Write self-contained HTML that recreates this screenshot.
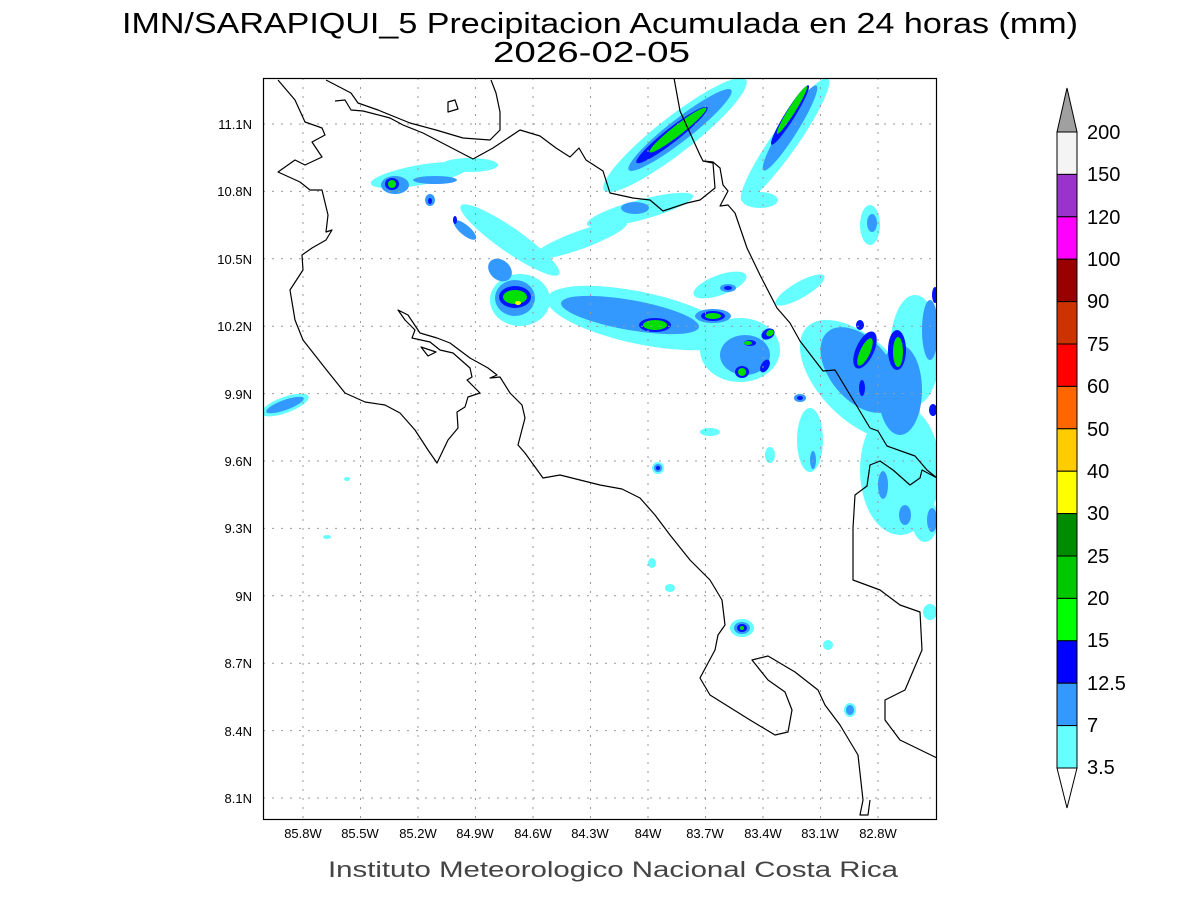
<!DOCTYPE html>
<html><head><meta charset="utf-8"><style>
html,body{margin:0;padding:0;background:#fff;}
svg{display:block;font-family:"Liberation Sans",sans-serif;}
</style></head><body>
<svg width="1200" height="900" viewBox="0 0 1200 900" xmlns="http://www.w3.org/2000/svg">
<rect width="1200" height="900" fill="#fff"/>
<text x="122" y="33" font-size="29" fill="#000" textLength="956" lengthAdjust="spacingAndGlyphs">IMN/SARAPIQUI_5 Precipitacion Acumulada en 24 horas (mm)</text>
<text x="493" y="62" font-size="29" fill="#000" textLength="197" lengthAdjust="spacingAndGlyphs">2026-02-05</text>
<defs><clipPath id="c"><rect x="263" y="78" width="674" height="742"/></clipPath></defs>
<g clip-path="url(#c)">
<g fill="#66ffff">
<ellipse cx="675" cy="135" rx="90" ry="18" transform="rotate(-38 675 135)"/>
<ellipse cx="785" cy="140" rx="75" ry="13" transform="rotate(-55 785 140)"/>
<ellipse cx="640" cy="210" rx="55" ry="10" transform="rotate(-15 640 210)"/>
<ellipse cx="760" cy="200" rx="18" ry="8"/>
<ellipse cx="420" cy="175" rx="50" ry="10" transform="rotate(-10 420 175)"/>
<ellipse cx="470" cy="165" rx="28" ry="7"/>
<ellipse cx="510" cy="240" rx="60" ry="12" transform="rotate(35 510 240)"/>
<ellipse cx="580" cy="240" rx="50" ry="9" transform="rotate(-20 580 240)"/>
<ellipse cx="520" cy="300" rx="30" ry="26"/>
<ellipse cx="640" cy="318" rx="95" ry="26" transform="rotate(12 640 318)"/>
<ellipse cx="740" cy="350" rx="40" ry="32"/>
<ellipse cx="720" cy="285" rx="28" ry="10" transform="rotate(-20 720 285)"/>
<ellipse cx="800" cy="290" rx="28" ry="8" transform="rotate(-30 800 290)"/>
<ellipse cx="860" cy="380" rx="75" ry="40" transform="rotate(45 860 380)"/>
<ellipse cx="900" cy="470" rx="40" ry="65"/>
<ellipse cx="915" cy="350" rx="25" ry="55"/>
<ellipse cx="870" cy="225" rx="10" ry="20"/>
<ellipse cx="810" cy="440" rx="13" ry="32"/>
<ellipse cx="925" cy="520" rx="13" ry="22"/>
<ellipse cx="285" cy="405" rx="25" ry="8" transform="rotate(-20 285 405)"/>
<ellipse cx="658" cy="468" rx="6" ry="6"/>
<ellipse cx="742" cy="628" rx="12" ry="9"/>
<ellipse cx="850" cy="710" rx="6" ry="7"/>
<ellipse cx="652" cy="563" rx="4" ry="5"/>
<ellipse cx="710" cy="432" rx="10" ry="4"/>
<ellipse cx="770" cy="455" rx="5" ry="8"/>
<ellipse cx="828" cy="645" rx="5" ry="5"/>
<ellipse cx="670" cy="588" rx="5" ry="4"/>
<ellipse cx="930" cy="612" rx="7" ry="8"/>
<ellipse cx="327" cy="537" rx="4" ry="2"/>
<ellipse cx="347" cy="479" rx="3" ry="2"/>
</g>
<g fill="#3399ff">
<ellipse cx="680" cy="130" rx="65" ry="11" transform="rotate(-38 680 130)"/>
<ellipse cx="790" cy="128" rx="50" ry="8" transform="rotate(-58 790 128)"/>
<ellipse cx="635" cy="208" rx="14" ry="6"/>
<ellipse cx="395" cy="185" rx="14" ry="9"/>
<ellipse cx="435" cy="180" rx="22" ry="4"/>
<ellipse cx="430" cy="200" rx="5" ry="6"/>
<ellipse cx="465" cy="230" rx="14" ry="5" transform="rotate(40 465 230)"/>
<ellipse cx="500" cy="270" rx="13" ry="10" transform="rotate(40 500 270)"/>
<ellipse cx="515" cy="298" rx="20" ry="18"/>
<ellipse cx="630" cy="315" rx="70" ry="15" transform="rotate(10 630 315)"/>
<ellipse cx="745" cy="355" rx="25" ry="20"/>
<ellipse cx="713" cy="316" rx="18" ry="7"/>
<ellipse cx="728" cy="288" rx="8" ry="4"/>
<ellipse cx="860" cy="370" rx="50" ry="30" transform="rotate(50 860 370)"/>
<ellipse cx="900" cy="390" rx="22" ry="45"/>
<ellipse cx="930" cy="330" rx="8" ry="30"/>
<ellipse cx="883" cy="485" rx="5" ry="14"/>
<ellipse cx="905" cy="515" rx="6" ry="10"/>
<ellipse cx="932" cy="520" rx="5" ry="12"/>
<ellipse cx="872" cy="223" rx="5" ry="9"/>
<ellipse cx="285" cy="405" rx="20" ry="5" transform="rotate(-20 285 405)"/>
<ellipse cx="658" cy="468" rx="4" ry="4"/>
<ellipse cx="742" cy="628" rx="8" ry="6"/>
<ellipse cx="850" cy="710" rx="4" ry="5"/>
<ellipse cx="800" cy="398" rx="6" ry="4"/>
<ellipse cx="813" cy="460" rx="3" ry="9"/>
</g>
<g fill="#0014ff">
<ellipse cx="672" cy="135" rx="45" ry="7" transform="rotate(-38 672 135)"/>
<ellipse cx="790" cy="115" rx="35" ry="5" transform="rotate(-58 790 115)"/>
<ellipse cx="392" cy="184" rx="7" ry="6"/>
<ellipse cx="430" cy="201" rx="2" ry="3"/>
<ellipse cx="455" cy="220" rx="2" ry="4"/>
<ellipse cx="515" cy="297" rx="16" ry="11"/>
<ellipse cx="655" cy="325" rx="16" ry="7"/>
<ellipse cx="713" cy="316" rx="12" ry="5"/>
<ellipse cx="728" cy="288" rx="4" ry="2"/>
<ellipse cx="750" cy="343" rx="6" ry="3"/>
<ellipse cx="768" cy="334" rx="7" ry="5" transform="rotate(-30 768 334)"/>
<ellipse cx="742" cy="372" rx="7" ry="6"/>
<ellipse cx="765" cy="366" rx="4" ry="7" transform="rotate(30 765 366)"/>
<ellipse cx="865" cy="350" rx="9" ry="20" transform="rotate(25 865 350)"/>
<ellipse cx="897" cy="350" rx="9" ry="20"/>
<ellipse cx="860" cy="325" rx="4" ry="5"/>
<ellipse cx="862" cy="388" rx="3" ry="8"/>
<ellipse cx="933" cy="410" rx="4" ry="6"/>
<ellipse cx="935" cy="295" rx="3" ry="8"/>
<ellipse cx="658" cy="468" rx="2" ry="2"/>
<ellipse cx="742" cy="628" rx="5" ry="4"/>
<ellipse cx="800" cy="398" rx="3" ry="2"/>
</g>
<g fill="#00e000">
<ellipse cx="678" cy="130" rx="36" ry="5" transform="rotate(-38 678 130)"/>
<ellipse cx="792" cy="110" rx="28" ry="3.5" transform="rotate(-58 792 110)"/>
<ellipse cx="392" cy="184" rx="4" ry="4"/>
<ellipse cx="515" cy="297" rx="12" ry="7"/>
<ellipse cx="655" cy="325" rx="12" ry="5"/>
<ellipse cx="713" cy="316" rx="8" ry="3"/>
<ellipse cx="748" cy="343" rx="4" ry="2"/>
<ellipse cx="770" cy="333" rx="4" ry="3" transform="rotate(-30 770 333)"/>
<ellipse cx="742" cy="372" rx="4" ry="4"/>
<ellipse cx="865" cy="352" rx="5" ry="15" transform="rotate(25 865 352)"/>
<ellipse cx="898" cy="352" rx="5" ry="15"/>
<ellipse cx="742" cy="628" rx="2" ry="2"/>
</g>
<ellipse cx="518" cy="303" rx="3" ry="2" fill="#ffff00"/>
<g stroke="#999" stroke-width="1" stroke-dasharray="2,7" fill="none">
<path d="M303 78V820M360.5 78V820M418 78V820M475.5 78V820M533 78V820M590.5 78V820M648 78V820M705.5 78V820M763 78V820M820.5 78V820M878 78V820"/>
<path d="M263 124H937M263 191.4H937M263 258.8H937M263 326.2H937M263 393.6H937M263 461H937M263 528.4H937M263 595.8H937M263 663.2H937M263 730.6H937M263 798H937"/>
</g>
<g stroke="#000" stroke-width="1.2" fill="none" stroke-linejoin="round">
<path d="M278 80L295 100L305 122L322 128L325 135L312 142L322 157L305 165L295 160L278 172L300 182L310 190L322 190L328 215L326 232L332 230L326 240L312 248L302 255L303 270L290 290L295 320L303 340L325 368L345 393L365 402L385 405L400 413L415 430L428 450L437 463L448 440L458 428L457 412L465 407L468 397L480 393L467 380L472 377L470 368L453 353L440 350L430 342L412 338L415 330L405 320L398 310L408 315L420 333L437 338L450 343L470 358L488 368L497 375L490 378L500 377L510 393L522 405L525 418L518 445L525 453L543 478L560 475L600 485L622 489L640 498L655 515L670 535L690 560L710 580L722 600L725 625L718 635L715 650L700 678L710 695L750 720L775 735L788 732L792 710L785 692L768 680L752 660L768 656L795 672L818 690L825 705L840 725L858 755L863 800L860 815L868 815L870 800"/>
<path d="M421 347L436 352L428 356Z"/>
<path d="M448 102L455 100L458 109L448 112Z"/>
<path d="M326 80L351 93L358 103L378 110L410 123L436 130L463 138L490 140L500 130L500 112L496 93L491 80"/>
<path d="M335 101L345 100L351 110L363 111L390 118L403 125L423 133L473 159L493 148L520 130L540 136L556 148L570 157L579 148L586 160L603 171L610 193L633 198L650 200L663 211L687 203L700 200L715 188L713 163L703 161"/>
<path d="M674 78L680 111L700 155L703 161L713 162L720 168L723 185L728 191L720 206L728 205L735 213L747 248L760 275L777 308L790 323L800 341L823 371L835 370L858 408L870 428L878 431L887 446L915 456L927 470L937 478"/>
<path d="M853 528L855 495L867 486L870 465L880 461L893 470L910 485L920 478L922 470L937 478"/>
<path d="M853 528L853 580L880 590L900 605L920 612L922 650L905 690L885 700L885 720L900 740L937 758"/>
</g>
</g>
<rect x="263.5" y="78.5" width="673" height="741" fill="none" stroke="#000" stroke-width="1.2"/>
<g font-size="13" fill="#000" text-anchor="end">
<text x="252" y="129">11.1N</text><text x="252" y="196">10.8N</text><text x="252" y="264">10.5N</text><text x="252" y="331">10.2N</text><text x="252" y="399">9.9N</text><text x="252" y="466">9.6N</text><text x="252" y="533">9.3N</text><text x="252" y="601">9N</text><text x="252" y="668">8.7N</text><text x="252" y="736">8.4N</text><text x="252" y="803">8.1N</text>
</g>
<g font-size="13" fill="#000" text-anchor="middle">
<text x="303" y="838">85.8W</text><text x="360" y="838">85.5W</text><text x="418" y="838">85.2W</text><text x="475" y="838">84.9W</text><text x="533" y="838">84.6W</text><text x="590" y="838">84.3W</text><text x="648" y="838">84W</text><text x="705" y="838">83.7W</text><text x="763" y="838">83.4W</text><text x="820" y="838">83.1W</text><text x="878" y="838">82.8W</text>
</g>
<text x="328" y="877" font-size="22" fill="#444" textLength="570" lengthAdjust="spacingAndGlyphs">Instituto Meteorologico Nacional Costa Rica</text>
<g stroke="#000" stroke-width="1">
<polygon points="1057,132 1077,132 1067,88" fill="#a0a0a0"/>
<rect x="1057" y="132" width="20" height="42.4" fill="#f4f4f4"/>
<rect x="1057" y="174.4" width="20" height="42.4" fill="#9933cc"/>
<rect x="1057" y="216.8" width="20" height="42.4" fill="#ff00ff"/>
<rect x="1057" y="259.2" width="20" height="42.4" fill="#990000"/>
<rect x="1057" y="301.6" width="20" height="42.4" fill="#cc3300"/>
<rect x="1057" y="344" width="20" height="42.4" fill="#ff0000"/>
<rect x="1057" y="386.4" width="20" height="42.4" fill="#ff6600"/>
<rect x="1057" y="428.8" width="20" height="42.4" fill="#ffcc00"/>
<rect x="1057" y="471.2" width="20" height="42.4" fill="#ffff00"/>
<rect x="1057" y="513.6" width="20" height="42.4" fill="#008c00"/>
<rect x="1057" y="556" width="20" height="42.4" fill="#00c800"/>
<rect x="1057" y="598.4" width="20" height="42.4" fill="#00ff00"/>
<rect x="1057" y="640.8" width="20" height="42.4" fill="#0000ff"/>
<rect x="1057" y="683.2" width="20" height="42.4" fill="#3399ff"/>
<rect x="1057" y="725.6" width="20" height="42.4" fill="#66ffff"/>
<polygon points="1057,768 1077,768 1067,808" fill="#fff"/>
</g>
<g font-size="20" fill="#000">
<text x="1087" y="139">200</text><text x="1087" y="181">150</text><text x="1087" y="224">120</text><text x="1087" y="266">100</text><text x="1087" y="308">90</text><text x="1087" y="351">75</text><text x="1087" y="393">60</text><text x="1087" y="436">50</text><text x="1087" y="478">40</text><text x="1087" y="520">30</text><text x="1087" y="563">25</text><text x="1087" y="605">20</text><text x="1087" y="647">15</text><text x="1087" y="690">12.5</text><text x="1087" y="732">7</text><text x="1087" y="774">3.5</text>
</g>
</svg>
</body></html>
